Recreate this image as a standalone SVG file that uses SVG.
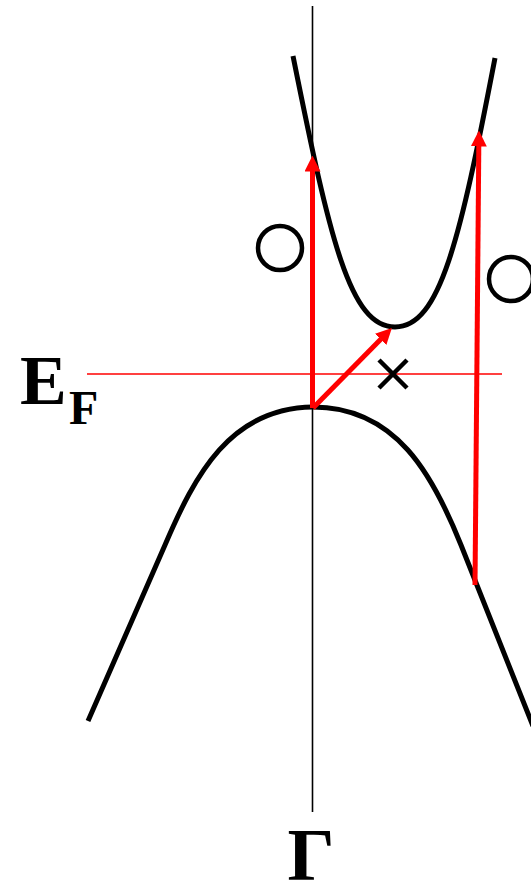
<svg xmlns="http://www.w3.org/2000/svg" width="531" height="887" viewBox="0 0 531 887">
<style>
.band{fill:none;stroke:#000;stroke-width:5;stroke-linejoin:round}
.axis{stroke:#000;stroke-width:1.6}
.ef{stroke:#ff0000;stroke-width:1.6}
.arrow{stroke:#ff0000;stroke-width:5;fill:none}
.mark{fill:none;stroke:#000;stroke-width:4.5}
.lbl{font-family:"Liberation Serif","Times New Roman",serif;font-weight:bold;fill:#000}
</style>
<defs>
<marker id="head" viewBox="0 0 16 16" markerWidth="16" markerHeight="16" markerUnits="userSpaceOnUse" refX="0.5" refY="8" orient="auto">
<path d="M0,0 L16,8 L0,16 z" fill="#ff0000"/>
</marker>
</defs>
<rect width="531" height="887" fill="#fff"/>
<g id="axis"><line class="axis" x1="312.5" y1="6" x2="312.5" y2="812"/></g>
<g id="fermi-level"><line class="ef" x1="87" y1="374" x2="502" y2="374"/></g>
<g id="conduction-band"><path class="band" d="M293,56 C330,240 350,327 395,327 C440,327 460,240 495,58"/></g>
<g id="valence-band"><path class="band" d="M88,721 L165,545 C195,475 230,408 313,407 C396,407 433,475 461,545 L533,726"/></g>
<g id="circle-left"><circle class="mark" cx="280" cy="248" r="22"/></g>
<g id="circle-right"><circle class="mark" cx="511" cy="279" r="22"/></g>
<g id="cross"><path class="mark" d="M379,360 L407,388 M407,360 L379,388"/></g>
<g id="connectors">
<line class="arrow" x1="312.5" y1="408" x2="312.5" y2="171" marker-end="url(#head)"/>
<line class="arrow" x1="475" y1="585" x2="478.8" y2="146" marker-end="url(#head)"/>
<line class="arrow" x1="313" y1="408" x2="381" y2="339" marker-end="url(#head)"/>
</g>
<g id="label-ef"><text class="lbl" x="20" y="404" font-size="70">E</text><text class="lbl" x="69" y="424" font-size="48">F</text></g>
<g id="label-gamma"><text class="lbl" x="311" y="880" font-size="74" text-anchor="middle">Γ</text></g>
</svg>
